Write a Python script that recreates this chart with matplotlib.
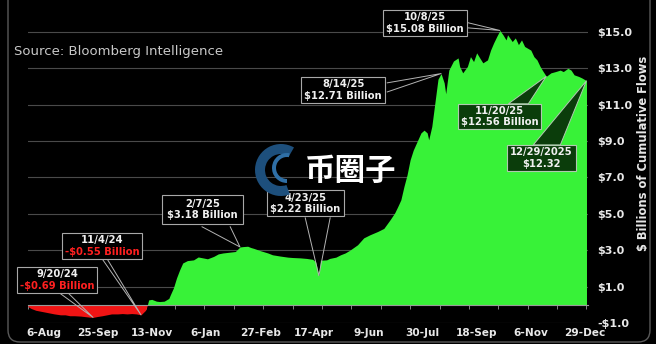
import numpy as np
import matplotlib
matplotlib.use("Agg")
import matplotlib.pyplot as plt
from matplotlib.patches import Polygon, FancyBboxPatch, Wedge, Rectangle
from matplotlib.transforms import Bbox

# trading-day index (0 = 23-Jul-2024) and cumulative flows, $ billions
day_idx = [0, 2, 5, 8, 11, 14, 17, 21, 24, 27, 30, 34, 37, 40, 42, 45, 48, 51, 54, 58,
           61, 64, 67, 70, 73, 76, 77,
           78, 80, 83, 85, 88, 91, 92, 94, 96, 98, 100, 103, 107, 110, 113, 116, 120, 123,
           126, 129, 134, 137, 139, 142, 144, 146, 150, 155, 158, 163, 168, 171, 176, 180,
           184, 186, 188, 189, 193, 195, 199, 202, 205, 208, 213, 217, 221, 226, 230, 234,
           237, 239, 241, 243, 245, 247, 249, 252, 254, 256, 258, 259, 261, 263, 265, 267,
           269, 270, 272, 275, 278, 279, 281, 284, 286, 288, 290, 292, 294, 297, 299, 301,
           303, 305, 307, 309, 310, 313, 315, 317, 319, 321, 325, 327, 329, 331, 333, 335,
           338, 341, 344, 346, 349, 351, 353, 356, 358, 361]
flows = [-0.10, -0.20, -0.30, -0.35, -0.40, -0.45, -0.50, -0.55, -0.55, -0.60, -0.60, -0.62,
         -0.65, -0.68, -0.69, -0.64, -0.60, -0.55, -0.50, -0.50,
         -0.48, -0.50, -0.48, -0.50, -0.55, -0.30, -0.05,
         0.27, 0.30, 0.20, 0.18, 0.20, 0.35, 0.55, 0.93, 1.48, 1.92, 2.30, 2.43, 2.47, 2.63,
         2.58, 2.53, 2.66, 2.80,
         2.85, 2.88, 2.93, 3.18, 3.20, 3.22, 3.15, 3.10, 2.98, 2.85, 2.75, 2.68, 2.62, 2.60,
         2.58, 2.55,
         2.50, 2.35, 1.60, 2.45, 2.47, 2.55, 2.62, 2.75, 2.85, 3.00, 3.30, 3.68, 3.85, 4.03,
         4.20, 4.67,
         5.05, 5.40, 5.77, 6.50, 7.14, 7.97, 8.50, 9.07, 9.45, 9.60, 9.45, 9.07, 9.80, 11.10,
         12.40, 12.71,
         12.20, 11.60, 12.90, 13.40, 13.57, 13.10, 12.75, 13.10, 13.64, 13.37, 13.85, 13.57,
         13.30, 13.46, 14.00, 14.40,
         14.75, 15.08, 14.84, 14.56, 14.84, 14.47, 14.67, 14.30, 14.56, 14.20, 14.00, 13.64,
         13.46, 13.10, 12.82, 12.56,
         12.75, 12.82, 12.90, 12.82, 13.00, 12.90, 12.64, 12.55, 12.47, 12.32]

tick_idx = [10, 45, 80, 115, 150, 185, 220, 255, 290, 325, 360]
tick_labels = ["6-Aug", "25-Sep", "13-Nov", "6-Jan", "27-Feb", "17-Apr",
               "9-Jun", "30-Jul", "18-Sep", "6-Nov", "29-Dec"]
y_ticks = [-1, 1, 3, 5, 7, 9, 11, 13, 15]

# callouts: date line, value line, point index
ann_dates = ["9/20/24", "11/4/24", "2/7/25", "4/23/25", "8/14/25", "10/8/25", "11/20/25", "12/29/2025"]
ann_texts = ["-$0.69 Billion", "-$0.55 Billion", "$3.18 Billion", "$2.22 Billion",
             "$12.71 Billion", "$15.08 Billion", "$12.56 Billion", "$12.32"]
ann_idx = [42, 73, 137, 188, 267, 305, 335, 361]
ann_kind = ["red", "red", "gray", "gray", "gray", "gray", "green", "green"]
# box centres and callout base points (layout, in data units)
box_xy = [(18.8, 1.37), (47.9, 3.24), (112.9, 5.25), (179.2, 5.58),
          (203.8, 11.81), (256.8, 15.49), (304.7, 10.36), (331.8, 8.08)]
box_pad = [2, 2, 4, 2.5, 2, 2, 2, 2]  # px around the text
base_pts = [((19.4, 0.71), (25.2, 0.71)), ((47.9, 2.53), (51.1, 2.53)),
            ((112.5, 4.29), (130.7, 4.29)), ((179.2, 4.78), (195.3, 4.78)),
            ((232.2, 12.2), (232.2, 11.7)), ((284.6, 15.5), (284.6, 15.22)),
            ((310.5, 11.05), (323.4, 11.05)), ((326.6, 8.79), (344.1, 8.79))]

x = np.array(day_idx)
y = np.array(flows)

fig = plt.figure(figsize=(6.56, 3.44), dpi=100, facecolor="black")
ax = fig.add_axes([0.0427, 0.061, 0.8537, 0.878])
ax.set_facecolor("black")

ax.fill_between(x, y, 0, where=y >= 0, interpolate=True, color="#38f238", lw=0, zorder=2)
ax.fill_between(x, y, 0, where=y <= 0, interpolate=True, color="#f01414", lw=0, zorder=2)

ax.set_xlim(0, 362)
ax.set_ylim(-1, 15.6)
ax.set_axisbelow(True)
ax.grid(axis="y", color="#4a4a4a", lw=0.8)
ax.grid(axis="x", visible=False)

for s in ["top", "left", "right"]:
    ax.spines[s].set_visible(False)
ax.spines["bottom"].set_position(("data", 0))
ax.spines["bottom"].set_color("#9a9a9a")
ax.spines["bottom"].set_zorder(3)

ax.set_xticks(tick_idx)
ax.set_xticklabels(tick_labels, fontsize=7.6, fontweight="bold", color="#e8e8e8")
ax.set_xticks(np.arange(0, 362, 19), minor=True)
ax.tick_params(axis="x", which="major", length=0, pad=17)
ax.tick_params(axis="x", which="minor", length=3, color="#9a9a9a", direction="out")

ax.yaxis.tick_right()
ax.set_yticks(y_ticks)
ax.set_yticklabels([f"-${-v:.1f}" if v < 0 else f"${v:.1f}" for v in y_ticks],
                   fontsize=8, fontweight="bold", color="#e8e8e8")
ax.tick_params(axis="y", length=0, pad=6.5)

# callouts
pairs = []
for i in range(len(ann_dates)):
    tip = (ann_idx[i], flows[day_idx.index(ann_idx[i])])
    (b1, b2) = base_pts[i]
    if ann_kind[i] == "green":
        ax.add_patch(Polygon([b1, tip, b2], closed=True, fc="#0b3d0b", ec="#b0c8b0",
                             lw=0.7, zorder=4, clip_on=False))
    else:
        ax.plot([b1[0], tip[0], b2[0]], [b1[1], tip[1], b2[1]], color="#b4b4b4",
                lw=0.7, zorder=4, clip_on=False)
    bx, by = box_xy[i]
    t1 = ax.annotate(ann_dates[i], (bx, by), xytext=(0, 0.5), textcoords="offset points",
                     ha="center", va="bottom", fontsize=7.2, fontweight="bold",
                     color="#f0f0f0", zorder=6)
    t2 = ax.annotate(ann_texts[i], (bx, by), xytext=(0, -0.5), textcoords="offset points",
                     ha="center", va="top", fontsize=7.2, fontweight="bold",
                     color="#ff2020" if ann_kind[i] == "red" else "#f0f0f0", zorder=6)
    pairs.append((t1, t2))

fig.canvas.draw()
r = fig.canvas.get_renderer()
inv = ax.transData.inverted()
for i, (t1, t2) in enumerate(pairs):
    bb = Bbox.union([t1.get_window_extent(r), t2.get_window_extent(r)])
    p = box_pad[i]
    (x0, y0), (x1, y1) = inv.transform([(bb.x0 - p - 1, bb.y0 - p), (bb.x1 + p + 1, bb.y1 + p)])
    if ann_kind[i] == "green":
        fc, ec = "#0b3d0b", "#b0c8b0"
    else:
        fc, ec = "black", "#a8a8a8"
    ax.add_patch(Rectangle((x0, y0), x1 - x0, y1 - y0, fc=fc, ec=ec, lw=0.8,
                           zorder=5, clip_on=False))

fig.text(643 / 656, 1 - 153 / 344, "$ Billions of Cumulative Flows", rotation=90,
         ha="center", va="center", fontsize=8.3, fontweight="bold", color="#e8e8e8")

# overlay in pixel units for frame, source note and watermark
ov = fig.add_axes([0, 0, 1, 1], facecolor="none")
ov.set_xlim(0, 656)
ov.set_ylim(344, 0)
ov.axis("off")
ov.add_patch(FancyBboxPatch((8, -20), 642, 362, boxstyle="round,pad=0,rounding_size=12",
                            fc="none", ec="#5a5a5a", lw=1))
ov.text(14, 52, "Source: Bloomberg Intelligence", fontsize=9.5, color="#c8c8c8",
        ha="left", va="center")
ov.add_patch(Wedge((281, 170), 26, 70, 300, width=10, fc="#1d4f7c", ec="none", zorder=7))
ov.add_patch(Wedge((287, 168), 15, 90, 280, width=4, fc="#2f6fa6", ec="none", zorder=7))
ov.text(351, 171, "币圈子", fontsize=22, fontweight="bold", color="white",
        ha="center", va="center", family=["Noto Sans CJK SC", "DejaVu Sans"], zorder=8)

fig.savefig("out.png", dpi=100, facecolor="black")
